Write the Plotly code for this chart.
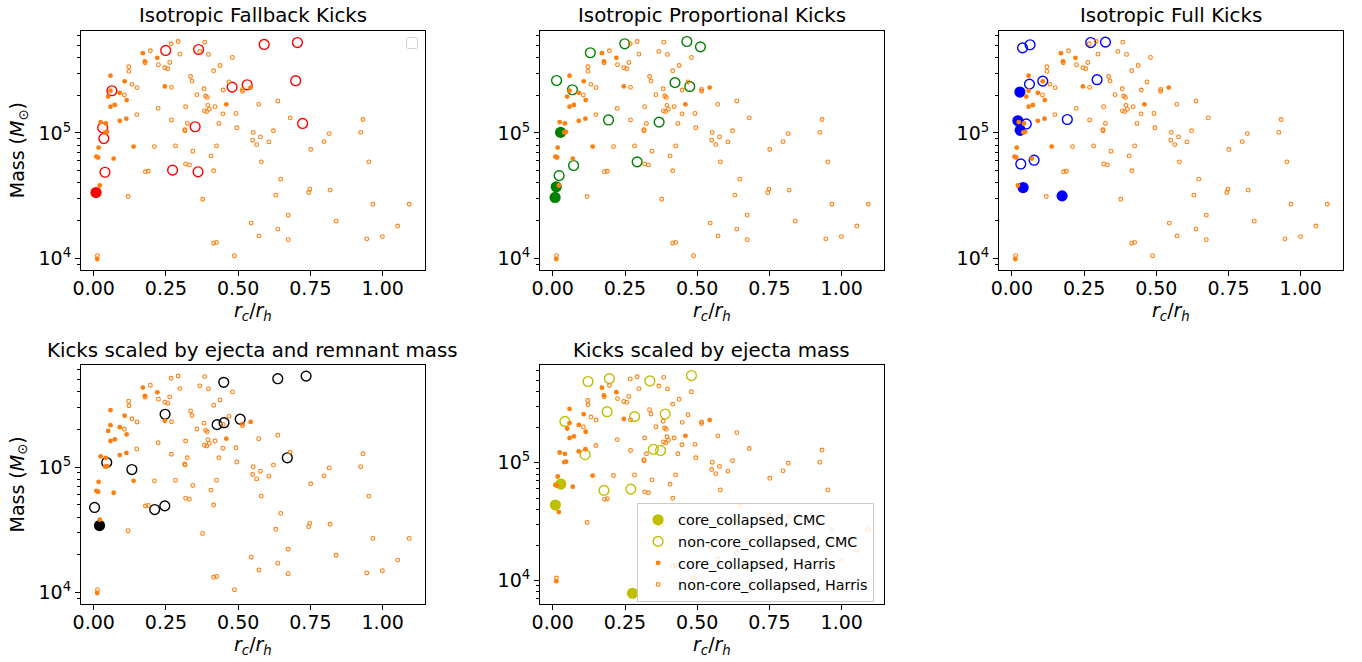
import plotly.graph_objects as go

W, H = 1362, 662
# measured placement of the page inside the photographed window (horizontal)
OFF_X, SCALE_X = 8.0, 0.994

# ---------------- Harris catalogue (same in every panel) ----------------
harris_cc_x = [0.170, 0.177, 0.220, 0.058, 0.107, 0.246, 0.058, 0.090, 0.050, 0.114,
               0.459, 0.058, 0.073, 0.543, 0.090, 0.113, 0.024, 0.042, 0.046, 0.040,
               0.017, 0.138, 0.009, 0.015, 0.069, 0.021, 0.012]
harris_cc_m = [4.33e5, 3.72e5, 3.97e5, 2.86e5, 2.58e5, 2.35e5, 2.17e5, 2.09e5, 1.95e5, 1.83e5,
               1.69e5, 1.62e5, 1.67e5, 2.30e5, 1.25e5, 1.30e5, 1.22e5, 1.19e5, 1.02e5, 1.01e5,
               7.64e4, 7.78e4, 6.48e4, 6.37e4, 6.25e4, 3.81e4, 9.88e3]

harris_ncc_x = [0.292, 0.384, 0.268, 0.196, 0.367, 0.298, 0.397, 0.480, 0.178, 0.224,
                0.263, 0.437, 0.121, 0.122, 0.246, 0.256, 0.415, 0.335, 0.340, 0.468,
                0.132, 0.150, 0.269, 0.382, 0.448, 0.515, 0.515, 0.106, 0.357, 0.387,
                0.393, 0.637, 0.571, 0.395, 0.318, 0.420, 0.223, 0.400, 0.383, 0.391,
                0.149, 0.447, 0.492, 0.680, 0.269, 0.932, 0.324, 0.433, 0.495, 0.315,
                0.316, 0.622, 0.552, 0.815, 0.924, 0.577, 0.550, 0.564, 0.606, 0.797,
                0.210, 0.283, 0.425, 0.343, 0.751, 0.406, 0.580, 0.952, 0.318, 0.331,
                0.179, 0.189, 0.415, 0.647, 0.748, 0.744, 0.818, 0.630, 0.119, 0.377,
                0.966, 1.092, 0.673, 0.545, 0.839, 0.637, 1.052, 0.572, 0.673, 0.945,
                0.999, 0.415, 0.425, 0.013, 0.487]
harris_ncc_m = [5.36e5, 5.30e5, 5.14e5, 4.52e5, 4.47e5, 4.25e5, 4.23e5, 4.00e5, 3.63e5, 3.50e5,
                3.65e5, 3.45e5, 3.37e5, 3.10e5, 3.31e5, 3.25e5, 3.13e5, 2.82e5, 2.59e5, 2.55e5,
                2.44e5, 2.30e5, 2.31e5, 2.25e5, 2.20e5, 2.22e5, 2.15e5, 2.01e5, 2.02e5, 1.97e5,
                1.92e5, 1.80e5, 1.69e5, 1.66e5, 1.62e5, 1.62e5, 1.57e5, 1.55e5, 1.50e5, 1.48e5,
                1.40e5, 1.42e5, 1.43e5, 1.32e5, 1.27e5, 1.28e5, 1.19e5, 1.19e5, 1.10e5, 1.06e5,
                1.04e5, 1.04e5, 1.01e5, 9.88e4, 1.01e5, 9.30e4, 8.75e4, 8.07e4, 8.48e4, 8.53e4,
                7.78e4, 7.88e4, 7.88e4, 7.15e4, 7.37e4, 6.56e4, 5.88e4, 5.88e4, 5.66e4, 5.56e4,
                4.90e4, 4.95e4, 4.99e4, 4.28e4, 3.56e4, 3.35e4, 3.50e4, 3.19e4, 3.11e4, 2.96e4,
                2.70e4, 2.70e4, 2.21e4, 1.91e4, 1.98e4, 1.71e4, 1.81e4, 1.51e4, 1.41e4, 1.43e4,
                1.49e4, 1.32e4, 1.34e4, 1.05e4, 1.05e4]

# ---------------- CMC models, one set per panel ----------------
fallback_cc_x = [0.008]
fallback_cc_m = [3.35e4]
fallback_ncc_x = [0.249, 0.363, 0.590, 0.705, 0.063, 0.479, 0.531, 0.699, 0.031, 0.351,
                  0.035, 0.723, 0.039, 0.273, 0.361]
fallback_ncc_m = [4.55e5, 4.63e5, 5.08e5, 5.26e5, 2.17e5, 2.32e5, 2.42e5, 2.61e5, 1.10e5, 1.12e5,
                  9.02e4, 1.19e5, 4.86e4, 5.05e4, 4.90e4]

proportional_cc_x = [0.027, 0.012, 0.008]
proportional_cc_m = [1.01e5, 3.72e4, 3.06e4]
proportional_ncc_x = [0.249, 0.130, 0.464, 0.511, 0.013, 0.068, 0.423, 0.474, 0.193, 0.368,
                      0.292, 0.072, 0.022]
proportional_ncc_m = [5.14e5, 4.36e5, 5.36e5, 4.86e5, 2.62e5, 2.21e5, 2.52e5, 2.35e5, 1.27e5, 1.22e5,
                      5.88e4, 5.50e4, 4.57e4]

full_cc_x = [0.028, 0.021, 0.029, 0.039, 0.174]
full_cc_m = [2.12e5, 1.25e5, 1.05e5, 3.67e4, 3.15e4]
full_ncc_x = [0.037, 0.063, 0.273, 0.324, 0.061, 0.107, 0.295, 0.050, 0.192, 0.031, 0.077]
full_ncc_m = [4.77e5, 5.05e5, 5.26e5, 5.30e5, 2.45e5, 2.59e5, 2.66e5, 1.18e5, 1.28e5, 5.66e4, 6.06e4]

ejrem_cc_x = [0.020]
ejrem_cc_m = [3.42e4]
ejrem_ncc_x = [0.450, 0.637, 0.735, 0.247, 0.427, 0.451, 0.507, 0.045, 0.132, 0.670,
               0.003, 0.211, 0.246]
ejrem_ncc_m = [4.77e5, 5.10e5, 5.35e5, 2.65e5, 2.19e5, 2.27e5, 2.42e5, 1.09e5, 9.58e4, 1.19e5,
               4.77e4, 4.59e4, 4.91e4]

ej_cc_x = [0.028, 0.009, 0.276]
ej_cc_m = [6.59e4, 4.37e4, 7.80e3]
ej_ncc_x = [0.122, 0.196, 0.336, 0.480, 0.042, 0.188, 0.283, 0.389, 0.348, 0.373,
            0.112, 0.177, 0.270]
ej_ncc_m = [4.88e5, 5.17e5, 4.94e5, 5.49e5, 2.24e5, 2.71e5, 2.46e5, 2.59e5, 1.30e5, 1.27e5,
            1.17e5, 5.82e4, 5.97e4]

panel_titles = ["Isotropic Fallback Kicks", "Isotropic Proportional Kicks", "Isotropic Full Kicks",
                "Kicks scaled by ejecta and remnant mass", "Kicks scaled by ejecta mass"]
panel_colors = ["#ff0000", "#008000", "#0000ff", "#000000", "#bfbf00"]
panel_data = [
    (fallback_cc_x, fallback_cc_m, fallback_ncc_x, fallback_ncc_m),
    (proportional_cc_x, proportional_cc_m, proportional_ncc_x, proportional_ncc_m),
    (full_cc_x, full_cc_m, full_ncc_x, full_ncc_m),
    (ejrem_cc_x, ejrem_cc_m, ejrem_ncc_x, ejrem_ncc_m),
    (ej_cc_x, ej_cc_m, ej_ncc_x, ej_ncc_m),
]
x_ticks = [0.0, 0.25, 0.5, 0.75, 1.0]
x_tick_labels = ["0.00", "0.25", "0.50", "0.75", "1.00"]
y_ticks = [1e4, 1e5]
y_tick_labels = ["10<sup>4</sup>", "10<sup>5</sup>"]
y_minor = [m * 10 ** e for e in (3, 4, 5) for m in range(2, 10)]

# ---------------- layout geometry (window pixels) ----------------
cols_px = [(81, 424.5), (540, 883.5), (999, 1342.5)]
rows_px = [(30.5, 270), (365, 604)]
panel_pos = [(0, 0), (0, 1), (0, 2), (1, 0), (1, 1)]
y_ranges = [[3.907, 5.817]] * 4 + [[3.801, 5.829]]
x_range = [-0.044, 1.145]


def px(x):
    return (x - OFF_X) / SCALE_X / W


def py(y):
    return 1 - y / H


ORANGE = "#ff7f0e"
FONT = "DejaVu Sans"

fig = go.Figure()
layout = dict(width=W, height=H, margin=dict(l=0, r=0, t=0, b=0, pad=0),
              paper_bgcolor="white", plot_bgcolor="white",
              font=dict(family=FONT, color="black", size=19),
              showlegend=True, annotations=[], shapes=[])

for i, (title, color, data) in enumerate(zip(panel_titles, panel_colors, panel_data)):
    r, c = panel_pos[i]
    n = "" if i == 0 else str(i + 1)
    xa, ya = "x" + n, "y" + n
    x0, x1 = cols_px[c]
    y0, y1 = rows_px[r]
    xdom = [px(x0), px(x1)]
    ydom = [py(y1), py(y0)]
    leg = (i == 4)
    cc_x, cc_m, ncc_x, ncc_m = data
    fig.add_trace(go.Scatter(x=cc_x, y=cc_m, mode="markers", xaxis=xa, yaxis=ya,
                             name="core_collapsed, CMC", showlegend=leg,
                             marker=dict(color=color, size=11.2, line=dict(width=0))))
    fig.add_trace(go.Scatter(x=ncc_x, y=ncc_m, mode="markers", xaxis=xa, yaxis=ya,
                             name="non-core_collapsed, CMC", showlegend=leg,
                             marker=dict(color=color, size=9.8, symbol="circle-open",
                                         line=dict(width=1.4, color=color))))
    fig.add_trace(go.Scatter(x=harris_cc_x, y=harris_cc_m, mode="markers", xaxis=xa, yaxis=ya,
                             name="core_collapsed, Harris", showlegend=leg,
                             marker=dict(color=ORANGE, size=4.8, line=dict(width=0))))
    fig.add_trace(go.Scatter(x=harris_ncc_x, y=harris_ncc_m, mode="markers", xaxis=xa, yaxis=ya,
                             name="non-core_collapsed, Harris", showlegend=leg,
                             marker=dict(color=ORANGE, size=3.8, symbol="circle-open",
                                         line=dict(width=1.1, color=ORANGE))))
    axis_common = dict(showline=True, mirror=True, linecolor="black", linewidth=1.1,
                       showgrid=False, zeroline=False, ticks="outside", ticklen=5,
                       tickwidth=1.1, tickcolor="black",
                       tickfont=dict(family=FONT, size=19, color="black"))
    layout["xaxis" + n] = dict(axis_common, domain=xdom, anchor=ya, range=x_range,
                               tickmode="array", tickvals=x_ticks, ticktext=x_tick_labels,
                               ticklabelstandoff=-4)
    layout["yaxis" + n] = dict(axis_common, domain=ydom, anchor=xa, type="log",
                               range=y_ranges[i], tickmode="array", tickvals=y_ticks,
                               ticktext=y_tick_labels,
                               minor=dict(tickmode="array", tickvals=y_minor, ticks="outside",
                                          ticklen=2.8, tickwidth=0.8, tickcolor="black",
                                          showgrid=False))
    # title
    layout["annotations"].append(dict(text=title, x=px((x0 + x1) / 2), y=py(y0),
                                      xref="paper", yref="paper", xanchor="center",
                                      yanchor="bottom", yshift=1, showarrow=False,
                                      font=dict(family=FONT, size=19.8, color="black")))
    # x label
    layout["annotations"].append(dict(text="<i>r<sub>c</sub></i>/<i>r<sub>h</sub></i>",
                                      x=px((x0 + x1) / 2), y=py(y1 + 41),
                                      xref="paper", yref="paper", xanchor="center",
                                      yanchor="middle", showarrow=False,
                                      font=dict(family=FONT, size=19, color="black")))
    if c == 0:
        layout["annotations"].append(dict(text="Mass (<i>M</i><sub>⊙</sub>)",
                                          x=px(18), y=py((y0 + y1) / 2),
                                          xref="paper", yref="paper", xanchor="center",
                                          yanchor="middle", textangle=-90, showarrow=False,
                                          font=dict(family=FONT, size=19, color="black")))

# empty legend box in first panel
bx0, bx1, by0, by1, rr = 406.5, 417.5, 37.5, 48.5, 2.0
path = (f"M {px(bx0 + rr)},{py(by0)} L {px(bx1 - rr)},{py(by0)} "
        f"Q {px(bx1)},{py(by0)} {px(bx1)},{py(by0 + rr)} L {px(bx1)},{py(by1 - rr)} "
        f"Q {px(bx1)},{py(by1)} {px(bx1 - rr)},{py(by1)} L {px(bx0 + rr)},{py(by1)} "
        f"Q {px(bx0)},{py(by1)} {px(bx0)},{py(by1 - rr)} L {px(bx0)},{py(by0 + rr)} "
        f"Q {px(bx0)},{py(by0)} {px(bx0 + rr)},{py(by0)} Z")
layout["shapes"].append(dict(type="path", path=path, xref="paper", yref="paper",
                             line=dict(color="#d0d0d0", width=1),
                             fillcolor="rgba(255,255,255,0.8)"))

layout["legend"] = dict(x=px(637), y=py(503), xanchor="left", yanchor="top",
                        bgcolor="rgba(255,255,255,0.8)", bordercolor="#cccccc", borderwidth=1,
                        font=dict(family=FONT, size=14.3, color="black"), traceorder="normal")

fig.update_layout(**layout)
fig.write_html("out.html", config={"displayModeBar": False},
               post_script="document.body.style.margin='0px';document.body.style.overflow='hidden';")
